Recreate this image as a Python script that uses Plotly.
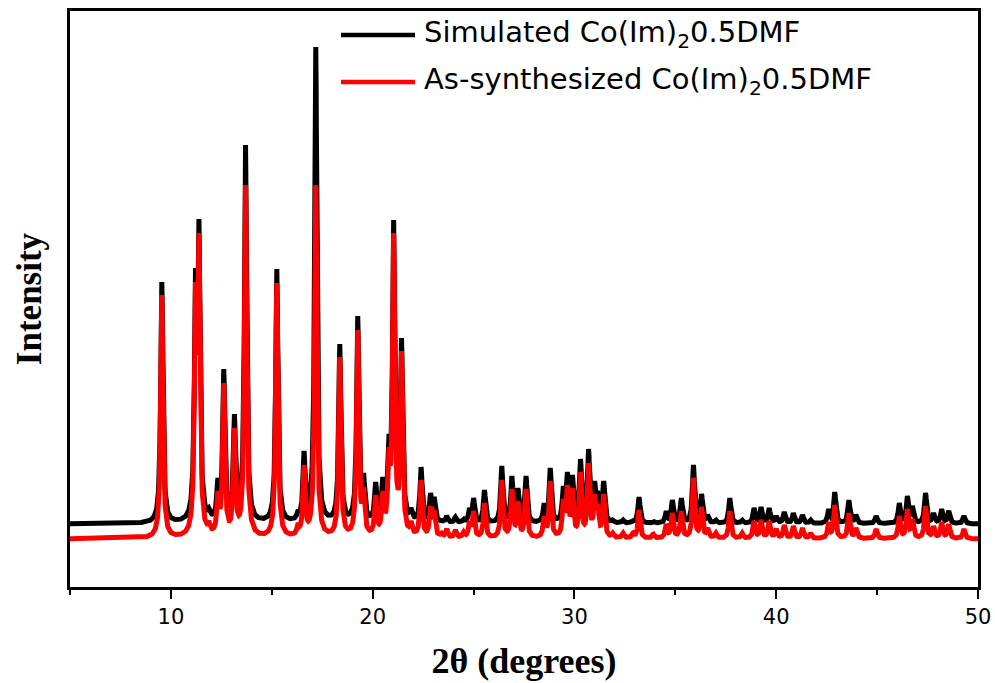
import numpy as np
import plotly.graph_objects as go

# ---- data (2θ in degrees, intensity in a.u.) ----
peak_pos = [9.55, 11.22, 11.39, 11.88, 12.33, 12.62, 13.15, 13.70, 14.06, 15.25,
            16.30, 16.60, 17.18, 18.37, 19.26, 19.55, 20.15, 20.50, 20.80, 21.04,
            21.43, 21.90, 22.40, 22.87, 23.05, 23.40, 23.67, 24.10, 24.50, 24.80,
            25.00, 25.54, 26.40, 26.90, 27.20, 27.60, 28.50, 28.80, 29.45, 29.65,
            29.90, 30.30, 30.70, 31.00, 31.15, 31.45, 31.90, 32.40, 32.90, 33.20,
            33.90, 34.55, 34.85, 35.30, 35.90, 36.30, 36.60, 37.00, 37.70, 38.30,
            38.90, 39.25, 39.65, 40.00, 40.40, 40.85, 41.30, 41.70, 42.60, 42.90,
            43.60, 43.95, 44.95, 46.10, 46.50, 46.75, 47.40, 47.80, 48.20, 48.55,
            49.30]

simulated_height = [242, 256, 305, 16, 46, 155, 110, 379, 13, 255,
                    14, 73, 477, 180, 208, 51, 42, 47, 90, 304,
                    186, 16, 57, 31, 27, 4, 8, 7, 5, 16,
                    26, 34, 58, 48, 36, 48, 21, 56, 38, 52,
                    49, 65, 75, 43, 33, 43, 4, 4, 4, 27,
                    3, 13, 24, 26, 59, 30, 9, 4, 26, 4,
                    16, 17, 16, 8, 12, 11, 9, 4, 15, 32,
                    24, 9, 8, 21, 28, 18, 31, 11, 15, 13,
                    8]

synthesized_height = [244, 257, 306, 18, 48, 156, 111, 354, 15, 256,
                      16, 74, 354, 182, 209, 52, 44, 48, 92, 306,
                      188, 18, 59, 33, 29, 6, 10, 9, 7, 18,
                      28, 36, 59, 50, 38, 50, 23, 58, 40, 54,
                      51, 67, 76, 45, 35, 45, 6, 6, 6, 29,
                      5, 15, 26, 28, 61, 32, 11, 6, 28, 6,
                      18, 19, 18, 10, 14, 13, 11, 6, 17, 34,
                      26, 11, 10, 23, 30, 20, 33, 13, 17, 15,
                      10]

simulated_baseline = 63
synthesized_baseline = 48

x_tick_values = [10, 20, 30, 40, 50]
series_names = ["Simulated Co(Im)<sub>2</sub>0.5DMF",
                "As-synthesized Co(Im)<sub>2</sub>0.5DMF"]
series_colors = ["#000000", "#ff0000"]

# ---- build the diffraction profiles from the read peak list ----
fwhm = 0.13
two_theta = np.round(np.linspace(5, 50, 4501), 4)


def lorentz(x, c):
    g = fwhm / 2.0
    return g * g / ((x - c) ** 2 + g * g)


def profile(heights, base):
    p = np.array(peak_pos, float)
    m = lorentz(p[:, None], p[None, :])
    amps = np.linalg.solve(m, np.array(heights, float))
    amps = np.clip(amps, 0, None)
    return base + (lorentz(two_theta[:, None], p[None, :]) * amps).sum(axis=1)


sim_curve = profile(simulated_height, simulated_baseline)
syn_curve = profile(synthesized_height, synthesized_baseline)

fig = go.Figure()
fig.add_trace(go.Scatter(x=two_theta, y=sim_curve, mode="lines", name=series_names[0],
                         line=dict(color=series_colors[0], width=5), showlegend=False))
fig.add_trace(go.Scatter(x=two_theta, y=syn_curve, mode="lines", name=series_names[1],
                         line=dict(color=series_colors[1], width=5), showlegend=False))

# ---- legend drawn manually (long line samples like the reference) ----
L, R, T, B = 70, 978, 11, 587


def px(xp):
    return (xp - L) / (R - L)


def py(yp):
    return (B - yp) / (B - T)


legend_rows = [35, 82]
for name, color, ypix in zip(series_names, series_colors, legend_rows):
    fig.add_shape(type="line", xref="paper", yref="paper",
                  x0=px(341), x1=px(415), y0=py(ypix), y1=py(ypix),
                  line=dict(color=color, width=4.5))
    fig.add_annotation(xref="paper", yref="paper", x=px(422), y=py(ypix - 1),
                       xanchor="left", yanchor="middle", showarrow=False,
                       text=name, font=dict(family="DejaVu Sans", size=29, color="black"))

fig.update_layout(
    width=995, height=683,
    margin=dict(l=L, r=995 - R, t=T, b=683 - B, autoexpand=False),
    paper_bgcolor="white", plot_bgcolor="white",
    xaxis=dict(range=[5, 50], tickvals=x_tick_values, ticks="outside", ticklen=9,
               tickwidth=2, tickcolor="black", showline=True, linewidth=2.5,
               linecolor="black", mirror=True, showgrid=False, zeroline=False,
               tickfont=dict(family="DejaVu Sans", size=21, color="black"),
               minor=dict(dtick=5, tick0=0, ticks="outside", ticklen=5, tickwidth=2,
                          tickcolor="black", showgrid=False),
               title=dict(text="2θ (degrees)", standoff=20,
                          font=dict(family="Liberation Serif", size=36, color="black",
                                    weight="bold"))),
    yaxis=dict(range=[0, 576], showticklabels=False, ticks="", showline=True,
               linewidth=2.5, linecolor="black", mirror=True, showgrid=False,
               zeroline=False,
               title=dict(text="Intensity", standoff=16,
                          font=dict(family="Liberation Serif", size=35, color="black",
                                    weight="bold"))),
)

fig.write_html("out.html")
